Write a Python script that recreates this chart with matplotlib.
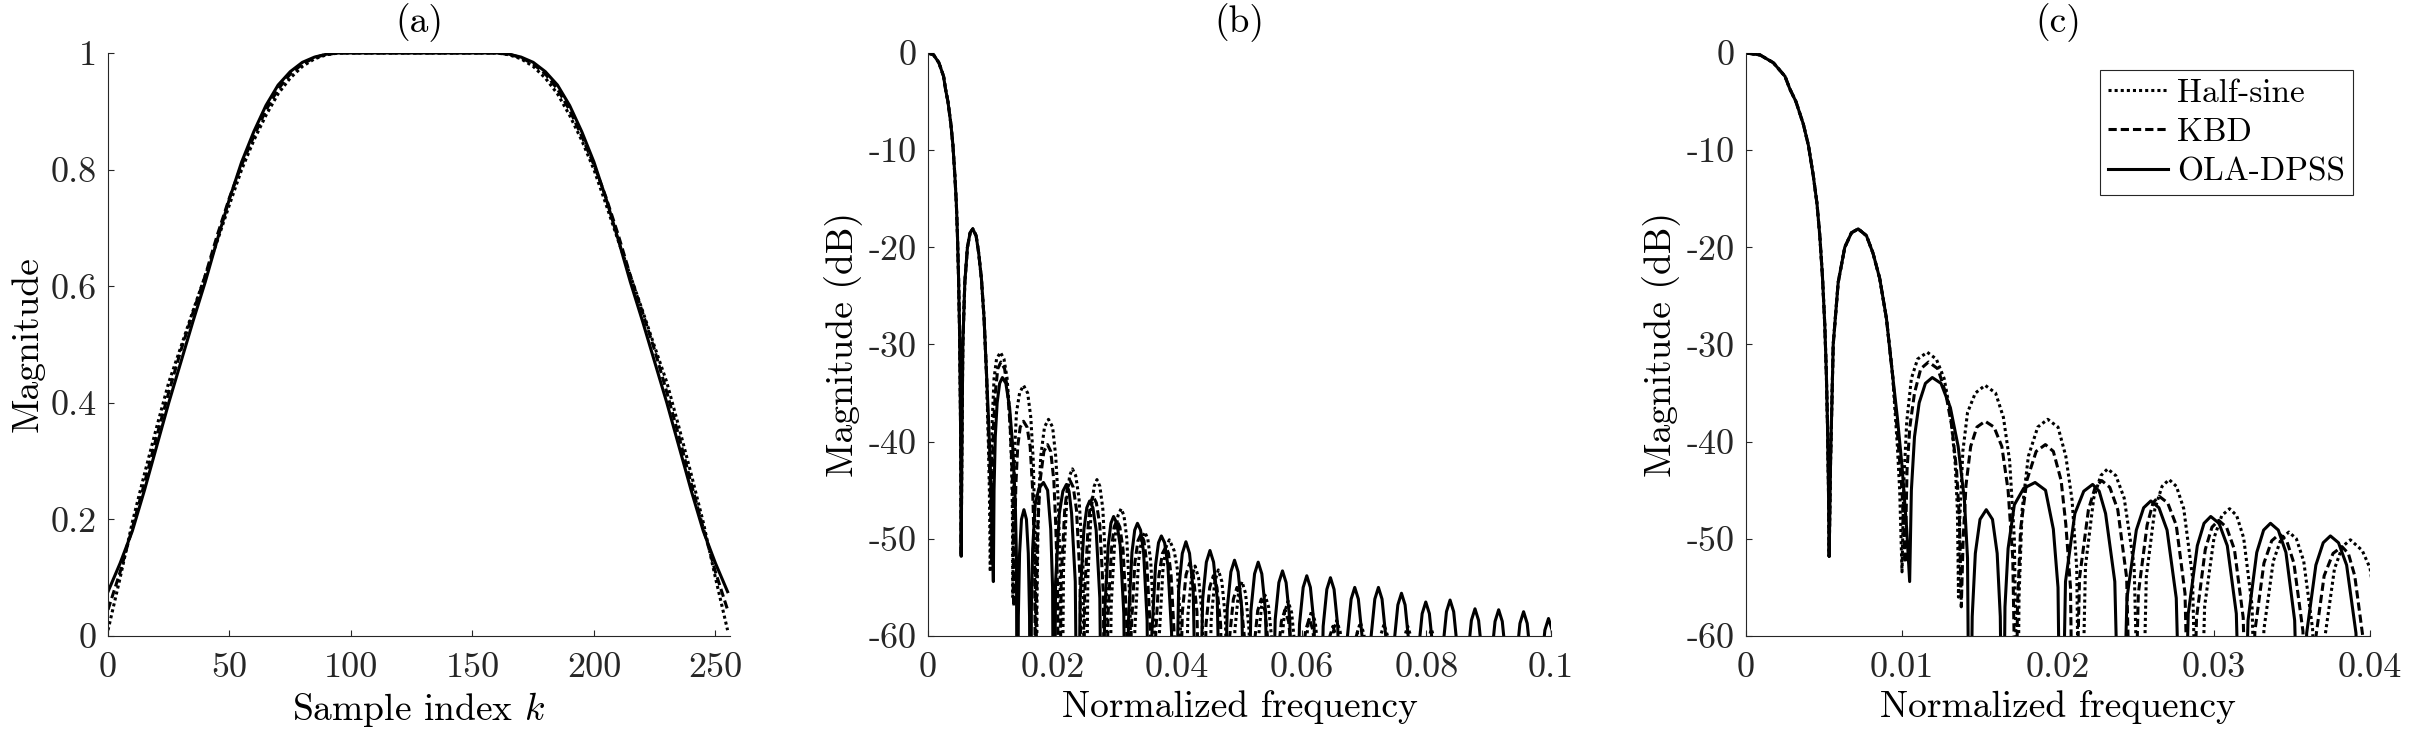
import matplotlib.pyplot as plt
import numpy as np

plt.rcParams['font.family'] = 'serif'
plt.rcParams['font.serif'] = ['cmr10']
plt.rcParams['mathtext.fontset'] = 'cm'
plt.rcParams['axes.unicode_minus'] = False
plt.rcParams['axes.formatter.use_mathtext'] = True

# ---------------- (a) window shapes: rising taper, k = 0..95 (window is symmetric, k = 0..255)
k_taper = [0, 5, 10, 15, 20, 25, 30, 35, 40, 45, 50, 55, 60, 65, 70, 75, 80, 85, 90, 95]
halfsine_taper = [0.01, 0.10, 0.195, 0.278, 0.358, 0.435, 0.496, 0.558, 0.618, 0.678,
                  0.740, 0.800, 0.850, 0.893, 0.930, 0.957, 0.977, 0.990, 0.997, 1.0]
kbd_taper = [0.045, 0.11, 0.185, 0.262, 0.342, 0.418, 0.490, 0.555, 0.618, 0.688,
             0.752, 0.808, 0.857, 0.902, 0.938, 0.964, 0.981, 0.992, 0.998, 1.0]
ola_taper = [0.076, 0.125, 0.180, 0.250, 0.325, 0.400, 0.470, 0.540, 0.607, 0.680,
             0.750, 0.813, 0.865, 0.910, 0.945, 0.968, 0.984, 0.993, 0.998, 1.0]

# ---------------- (b)/(c) magnitude responses in dB (nulls below the axis given as -80)
# main lobe + first sidelobe, common to the three windows
common_f = [0, 0.0009, 0.00175, 0.0025, 0.00281, 0.0032, 0.00367, 0.0040, 0.00431, 0.00455,
            0.00473, 0.0049, 0.00505, 0.00515, 0.00522, 0.00528, 0.00533,
            0.00542, 0.00559, 0.00591, 0.00633, 0.00676, 0.00719, 0.00772, 0.00814, 0.00857,
            0.0090, 0.0094]
common_db = [0, -0.2, -1.0, -2.4, -3.7, -5.0, -7.3, -9.5, -12.6, -15.5,
             -18.8, -23, -28, -33, -38, -44, -51.8,
             -42, -30, -23.6, -20, -18.5, -18.1, -18.8, -20.6, -23.2,
             -27.3, -33.2]

halfsine_f = [0.0097, 0.00985, 0.0100,
              0.01012, 0.0103, 0.0106, 0.0110, 0.01162, 0.0122, 0.0127, 0.0131, 0.0134, 0.01355, 0.01362,
              0.0137, 0.0139, 0.0142, 0.0147, 0.01533, 0.0160, 0.0165, 0.0169, 0.0172, 0.01742,
              0.0175, 0.0177, 0.0181, 0.0187, 0.01934, 0.0200, 0.0205, 0.0209, 0.0212, 0.0214,
              0.02176, 0.02229, 0.02274, 0.02318, 0.02371, 0.02424, 0.02488, 0.0253,
              0.02566, 0.02621, 0.02667, 0.02712, 0.02759, 0.02806, 0.02862, 0.0290,
              0.0294, 0.0300, 0.0305, 0.0310, 0.03145, 0.0319, 0.03244, 0.0328,
              0.0332, 0.0338, 0.0343, 0.0348, 0.03528, 0.03575, 0.03632, 0.0367,
              0.03711, 0.03772, 0.03823, 0.03874, 0.0395, 0.0400, 0.0405, 0.0409,
              0.04172, 0.04229, 0.04286, 0.04343, 0.0440, 0.0447,
              0.04546, 0.04603, 0.0466, 0.04717, 0.04774, 0.0485,
              0.04926, 0.04983, 0.0504, 0.05097, 0.05154, 0.0522,
              0.05296, 0.05353, 0.0541, 0.05467, 0.05524, 0.0560,
              0.05666, 0.05723, 0.0578, 0.05837, 0.05894, 0.0597,
              0.06046, 0.06103, 0.0616, 0.06217, 0.06274, 0.0636,
              0.06446, 0.06503, 0.0656, 0.06617, 0.06674, 0.0675,
              0.06826, 0.06883, 0.0694, 0.06997, 0.07054, 0.0713,
              0.07206, 0.07263, 0.0732, 0.07377, 0.07434, 0.0751,
              0.07586, 0.07643, 0.0770, 0.07757, 0.07814, 0.0789,
              0.07966, 0.08023, 0.0808, 0.08137, 0.08194, 0.0827]
halfsine_db = [-40.4, -45, -53.4,
               -44, -38, -33.5, -31.5, -30.8, -31.5, -33.5, -37, -42, -47, -56,
               -48, -41, -37, -35, -34.2, -35, -37.5, -42, -50, -72,
               -56, -47, -41.5, -38.5, -37.7, -38.5, -41.5, -46, -53, -80,
               -52.8, -45.8, -43.5, -42.8, -43.5, -45.8, -52.8, -80,
               -53.9, -46.9, -44.6, -43.9, -44.6, -46.9, -53.9, -80,
               -56.9, -49.9, -47.6, -46.9, -47.6, -49.9, -56.9, -80,
               -59.3, -52.3, -50.0, -49.3, -50.0, -52.3, -59.3, -80,
               -60.1, -53.1, -50.8, -50.1, -51.2, -53.0, -58.5, -80,
               -57.8, -54.0, -52.8, -54.0, -57.8, -80,
               -58.2, -54.4, -53.2, -54.4, -58.2, -80,
               -59.4, -55.6, -54.4, -55.6, -59.4, -80,
               -60.8, -57.0, -55.8, -57.0, -60.8, -80,
               -61.4, -57.6, -56.4, -57.6, -61.4, -80,
               -62.4, -58.6, -57.4, -58.6, -62.4, -80,
               -63.4, -59.6, -58.4, -59.6, -63.4, -80,
               -63.6, -59.8, -58.6, -59.8, -63.6, -80,
               -63.8, -60.0, -58.8, -60.0, -63.8, -80,
               -64.0, -60.2, -59.0, -60.2, -64.0, -80,
               -64.3, -60.5, -59.3, -60.5, -64.3, -80]

kbd_f = [0.0097, 0.0100, 0.0102,
         0.01032, 0.0105, 0.0108, 0.0112, 0.0117, 0.0123, 0.0128, 0.0132, 0.0135, 0.01368, 0.0138,
         0.01392, 0.0141, 0.0144, 0.0148, 0.01533, 0.0159, 0.0164, 0.0168, 0.0171, 0.01731,
         0.0174, 0.0176, 0.0180, 0.0186, 0.01919, 0.0197, 0.0202, 0.0205, 0.0208, 0.0210,
         0.02138, 0.02195, 0.02238, 0.0228, 0.02332, 0.02383, 0.0244, 0.02478,
         0.02515, 0.02571, 0.02609, 0.02647, 0.02703, 0.02758, 0.02814, 0.02851,
         0.02888, 0.02944, 0.02987, 0.0303, 0.0308, 0.03131, 0.03187, 0.03224,
         0.03262, 0.0332, 0.0337, 0.0342, 0.03466, 0.03512, 0.0357, 0.03608,
         0.03647, 0.03706, 0.03763, 0.0382, 0.03861, 0.03902, 0.0396, 0.0400,
         0.04083, 0.04142, 0.0420, 0.04258, 0.04317, 0.0439,
         0.04463, 0.04522, 0.0458, 0.04638, 0.04697, 0.0477,
         0.04843, 0.04902, 0.0496, 0.05018, 0.05077, 0.0516,
         0.05233, 0.05292, 0.0535, 0.05408, 0.05467, 0.0554,
         0.05613, 0.05672, 0.0573, 0.05788, 0.05847, 0.0593,
         0.06003, 0.06062, 0.0612, 0.06178, 0.06237, 0.0631,
         0.06383, 0.06442, 0.0650, 0.06558, 0.06617, 0.0670,
         0.06773, 0.06832, 0.0689, 0.06948, 0.07007, 0.0708]
kbd_db = [-39, -45, -52.5,
          -43, -38.5, -35, -32.5, -31.8, -32.5, -35, -38.5, -43, -48, -57,
          -50, -44.5, -40.5, -38.5, -37.9, -38.5, -40.5, -45, -52, -72,
          -57, -49, -44, -41, -40.3, -41, -44, -48.5, -55, -80,
          -54, -47, -44.7, -44, -44.7, -47, -54, -80,
          -55.6, -48.6, -46.3, -45.6, -46.3, -48.6, -55.6, -80,
          -58.1, -51.1, -48.8, -48.1, -48.8, -51.1, -58.1, -80,
          -59.5, -52.5, -50.2, -49.5, -50.2, -52.5, -59.5, -80,
          -60.8, -53.8, -51.5, -50.8, -51.5, -53.8, -60.8, -80,
          -57.5, -53.7, -52.5, -53.7, -57.5, -80,
          -58.8, -55.0, -53.8, -55.0, -58.8, -80,
          -60.0, -56.2, -55.0, -56.2, -60.0, -80,
          -61.2, -57.4, -56.2, -57.4, -61.2, -80,
          -62.3, -58.5, -57.3, -58.5, -62.3, -80,
          -63.2, -59.4, -58.2, -59.4, -63.2, -80,
          -64.0, -60.2, -59.0, -60.2, -64.0, -80,
          -64.7, -60.9, -59.7, -60.9, -64.7, -80]

ola_f = [0.0097, 0.0100, 0.0103, 0.01049,
         0.0106, 0.0108, 0.0111, 0.0115, 0.01194, 0.0125, 0.0131, 0.0136, 0.0140, 0.0142, 0.01433,
         0.0145, 0.0147, 0.0150, 0.0154, 0.0158, 0.0161, 0.0163, 0.01646,
         0.0166, 0.0168, 0.0172, 0.0178, 0.01853, 0.0192, 0.0197, 0.0200, 0.02019,
         0.02048, 0.02108, 0.02165, 0.02222, 0.02264, 0.02305, 0.02364, 0.02403,
         0.02442, 0.02502, 0.02549, 0.02595, 0.02647, 0.02699, 0.02758, 0.02797,
         0.02835, 0.02893, 0.02936, 0.02979, 0.03032, 0.03085, 0.03143, 0.03181,
         0.03218, 0.03274, 0.03318, 0.03362, 0.03412, 0.03461, 0.03517, 0.03554,
         0.03594, 0.03653, 0.0370, 0.03746, 0.03798, 0.0385, 0.0391, 0.03949,
         0.04023, 0.04082, 0.0414, 0.04198, 0.04257, 0.0433,
         0.04409, 0.04468, 0.04526, 0.04584, 0.04643, 0.0472,
         0.04803, 0.04862, 0.0492, 0.04978, 0.05037, 0.0511,
         0.05183, 0.05242, 0.0530, 0.05358, 0.05417, 0.05495,
         0.05573, 0.05632, 0.0569, 0.05748, 0.05807, 0.05885,
         0.05963, 0.06022, 0.0608, 0.06138, 0.06197, 0.0627,
         0.06343, 0.06402, 0.0646, 0.06518, 0.06577, 0.06655,
         0.06733, 0.06792, 0.0685, 0.06908, 0.06967, 0.0704,
         0.07113, 0.07172, 0.0723, 0.07288, 0.07347, 0.07415,
         0.07483, 0.07542, 0.0760, 0.07658, 0.07717, 0.07795,
         0.07873, 0.07932, 0.0799, 0.08048, 0.08107, 0.08185,
         0.08263, 0.08322, 0.0838, 0.08438, 0.08497, 0.0858,
         0.08663, 0.08722, 0.0878, 0.08838, 0.08897, 0.0898,
         0.09043, 0.09102, 0.0916, 0.09218, 0.09277, 0.0936,
         0.09443, 0.09502, 0.0956, 0.09618, 0.09677, 0.09765,
         0.09843, 0.09902, 0.0996, 0.10018, 0.10077, 0.1015]
ola_db = [-37.5, -42.5, -49, -54.4,
          -45, -39.5, -36, -34, -33.4, -34, -36.5, -40.5, -46, -52, -80,
          -58, -51.5, -48, -47, -48, -51.5, -58, -80,
          -57, -51, -46.5, -44.8, -44.2, -45, -49, -55, -80,
          -54.4, -47.4, -45.1, -44.4, -45.1, -47.4, -54.4, -80,
          -56.1, -49.1, -46.8, -46.1, -46.8, -49.1, -56.1, -80,
          -57.7, -50.7, -48.4, -47.7, -48.4, -50.7, -57.7, -80,
          -58.4, -51.4, -49.1, -48.4, -49.1, -51.4, -58.4, -80,
          -59.7, -52.7, -50.4, -49.7, -50.4, -52.7, -59.7, -80,
          -55.3, -51.5, -50.3, -51.5, -55.3, -80,
          -56.2, -52.4, -51.2, -52.4, -56.2, -80,
          -57.2, -53.4, -52.2, -53.4, -57.2, -80,
          -57.4, -53.6, -52.4, -53.6, -57.4, -80,
          -58.3, -54.5, -53.3, -54.5, -58.3, -80,
          -58.8, -55.0, -53.8, -55.0, -58.8, -80,
          -59.0, -55.2, -54.0, -55.2, -59.0, -80,
          -60.0, -56.2, -55.0, -56.2, -60.0, -80,
          -60.0, -56.2, -55.0, -56.2, -60.0, -80,
          -60.6, -56.8, -55.6, -56.8, -60.6, -80,
          -61.5, -57.7, -56.5, -57.7, -61.5, -80,
          -61.3, -57.5, -56.3, -57.5, -61.3, -80,
          -62.2, -58.4, -57.2, -58.4, -62.2, -80,
          -62.3, -58.5, -57.3, -58.5, -62.3, -80,
          -62.5, -58.7, -57.5, -58.7, -62.5, -80,
          -63.2, -59.4, -58.2, -59.4, -63.2, -80]

labels = ['Half-sine', 'KBD', 'OLA-DPSS']
a_xticks = [0, 50, 100, 150, 200, 250]
a_yticks = [0, 0.2, 0.4, 0.6, 0.8, 1]
a_yticklabels = ['0', '0.2', '0.4', '0.6', '0.8', '1']
db_yticks = [-60, -50, -40, -30, -20, -10, 0]
db_yticklabels = ['-60', '-50', '-40', '-30', '-20', '-10', '0']
b_xticks = [0, 0.02, 0.04, 0.06, 0.08, 0.1]
b_xticklabels = ['0', '0.02', '0.04', '0.06', '0.08', '0.1']
c_xticks = [0, 0.01, 0.02, 0.03, 0.04]
c_xticklabels = ['0', '0.01', '0.02', '0.03', '0.04']

# full symmetric windows and full responses
k_full = k_taper + [255 - k for k in k_taper[::-1]]
windows = [halfsine_taper + halfsine_taper[::-1],
           kbd_taper + kbd_taper[::-1],
           ola_taper + ola_taper[::-1]]
spectra = [(common_f + halfsine_f, common_db + halfsine_db),
           (common_f + kbd_f, common_db + kbd_db),
           (common_f + ola_f, common_db + ola_db)]
dashes = [(0, (1, 1)), (0, (2.7, 1.3)), '-']

axis_col = '#262626'
lw = 2.2


def style_axes(ax):
    ax.spines['top'].set_visible(False)
    ax.spines['right'].set_visible(False)
    for side in ['left', 'bottom']:
        ax.spines[side].set_color(axis_col)
        ax.spines[side].set_linewidth(0.8)
    ax.tick_params(direction='in', length=4, width=0.8, color=axis_col,
                   labelsize=26, labelcolor=axis_col)
    ax.tick_params(axis='x', pad=12)
    ax.tick_params(axis='y', pad=8)


fig = plt.figure(figsize=(24.19, 7.36), dpi=100)
ax_a = fig.add_axes([0.04465, 0.13587, 0.25713, 0.79212])
ax_b = fig.add_axes([0.38363, 0.13587, 0.25754, 0.79212])
ax_c = fig.add_axes([0.72179, 0.13587, 0.25796, 0.79212])

# (a)
for w, ls, lab in zip(windows, dashes, labels):
    ax_a.plot(k_full, w, color='black', linestyle=ls, linewidth=lw, label=lab)
ax_a.set_xlim(0, 256)
ax_a.set_ylim(0, 1)
ax_a.set_xticks(a_xticks)
ax_a.set_xticklabels([str(t) for t in a_xticks])
ax_a.set_yticks(a_yticks)
ax_a.set_yticklabels(a_yticklabels)
ax_a.set_xlabel('Sample index $k$', fontsize=27)
ax_a.set_ylabel('Magnitude', fontsize=27)
ax_a.set_title('(a)', fontsize=27, pad=15)

# (b) and (c)
for ax, xmax, xt, xtl, ttl in [(ax_b, 0.1, b_xticks, b_xticklabels, '(b)'),
                               (ax_c, 0.04, c_xticks, c_xticklabels, '(c)')]:
    for (f, db), ls, lab in zip(spectra, dashes, labels):
        ax.plot(f, db, color='black', linestyle=ls, linewidth=lw, label=lab)
    ax.set_xlim(0, xmax)
    ax.set_ylim(-60, 0)
    ax.set_xticks(xt)
    ax.set_xticklabels(xtl)
    ax.set_yticks(db_yticks)
    ax.set_yticklabels(db_yticklabels)
    ax.set_xlabel('Normalized frequency', fontsize=27)
    ax.set_ylabel('Magnitude (dB)', fontsize=27)
    ax.set_title(ttl, fontsize=27, pad=15)

for ax in [ax_a, ax_b, ax_c]:
    style_axes(ax)

leg = ax_c.legend(loc='upper right', bbox_to_anchor=(0.973, 0.971), borderaxespad=0,
                  fontsize=24, fancybox=False, edgecolor=axis_col, framealpha=1,
                  handlelength=1.8, handletextpad=0.27, labelspacing=0.3, borderpad=0.25)
leg.get_frame().set_linewidth(0.8)

fig.savefig('out.png', dpi=100)
